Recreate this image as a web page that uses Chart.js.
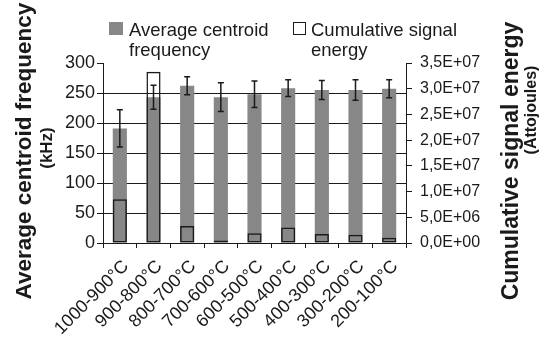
<!DOCTYPE html>
<html><head><meta charset="utf-8">
<script src="https://cdn.jsdelivr.net/npm/chart.js@4.4.1/dist/chart.umd.min.js"></script>
<style>html,body{margin:0;padding:0;background:#fff;}#wrap{width:547px;height:337px;position:relative;}</style>
</head><body><div id="wrap"><canvas id="c" width="547" height="337"></canvas></div>
<script>
const categories = ['1000-900°C','900-800°C','800-700°C','700-600°C','600-500°C','500-400°C','400-300°C','300-200°C','200-100°C'];
const frequencyValues = [191, 243, 262, 243, 248, 258, 255, 255, 257];
const frequencyErrors = [31, 20, 15, 24, 22, 14, 16, 17, 15];
const energyValues = [8.5e6, 3.33e7, 3.3e6, 5e5, 1.9e6, 3.0e6, 1.75e6, 1.6e6, 1.0e6];
const rightTickLabels = ['0,0E+00','5,0E+06','1,0E+07','1,5E+07','2,0E+07','2,5E+07','3,0E+07','3,5E+07'];
const legendLabels = [['Average centroid','frequency'],['Cumulative signal','energy']];
const leftTitle = ['Average centroid frequency','(kHz)'];
const rightTitle = ['Cumulative signal energy','(Attojoules)'];

const FONT = '"Liberation Sans", Arial, sans-serif';
const GRAY = '#878787';
const INK = '#1a1a1a';

const overlay = {
  id: 'overlay',
  afterDatasetsDraw(chart) {
    const ctx = chart.ctx;
    const y = chart.scales.y, x = chart.scales.x;
    ctx.save();
    ctx.strokeStyle = INK; ctx.lineWidth = 1.5;
    frequencyValues.forEach((v, i) => {
      const px = x.getPixelForValue(i);
      const top = y.getPixelForValue(v + frequencyErrors[i]);
      const bot = y.getPixelForValue(v - frequencyErrors[i]);
      ctx.beginPath();
      ctx.moveTo(px, top); ctx.lineTo(px, bot);
      ctx.moveTo(px - 3, top); ctx.lineTo(px + 3, top);
      ctx.moveTo(px - 3, bot); ctx.lineTo(px + 3, bot);
      ctx.stroke();
    });
    ctx.restore();
  },
  afterDraw(chart) {
    const ctx = chart.ctx;
    ctx.save();
    ctx.fillStyle = GRAY; ctx.fillRect(109, 22, 14, 13);
    ctx.strokeStyle = INK; ctx.lineWidth = 1; ctx.fillStyle = '#fff';
    ctx.fillRect(293.5, 22.5, 12, 12); ctx.strokeRect(293.5, 22.5, 12, 12);
    ctx.fillStyle = INK; ctx.font = '18.5px ' + FONT; ctx.textAlign = 'left'; ctx.textBaseline = 'alphabetic';
    legendLabels[0].forEach((t, k) => ctx.fillText(t, 129, 36 + k * 19.5));
    legendLabels[1].forEach((t, k) => ctx.fillText(t, 311, 36 + k * 19.5));
    const drawRot = (text, cx, cy, size) => {
      ctx.save(); ctx.translate(cx, cy); ctx.rotate(-Math.PI / 2);
      ctx.font = 'bold ' + size + 'px ' + FONT; ctx.textAlign = 'center'; ctx.textBaseline = 'middle';
      ctx.fillText(text, 0, 0); ctx.restore();
    };
    drawRot(leftTitle[0], 25, 151, 22.5);
    drawRot(leftTitle[1], 47, 148, 17);
    drawRot(rightTitle[0], 512, 161, 23);
    drawRot(rightTitle[1], 532, 110, 16);
    ctx.restore();
  }
};

new Chart(document.getElementById('c'), {
  type: 'bar',
  data: {
    labels: categories,
    datasets: [
      { label: 'Cumulative signal energy', data: energyValues, yAxisID: 'y1', order: 0,
        backgroundColor: 'rgba(0,0,0,0)', borderColor: INK, borderWidth: 1.5, borderSkipped: false },
      { label: 'Average centroid frequency', data: frequencyValues, yAxisID: 'y', order: 1,
        backgroundColor: GRAY, borderWidth: 0 }
    ]
  },
  options: {
    responsive: false, animation: false,
    datasets: { bar: { grouped: false, barPercentage: 0.42, categoryPercentage: 1 } },
    layout: { padding: { top: 63, left: 0, right: 0, bottom: 0 } },
    plugins: { legend: { display: false }, tooltip: { enabled: false } },
    scales: {
      x: {
        offset: true,
        grid: { display: true, offset: true, drawOnChartArea: false, drawTicks: true, tickLength: 5, color: INK },
        border: { color: INK, width: 1 },
        ticks: { font: { family: FONT, size: 18 }, color: INK, minRotation: 45, maxRotation: 45, autoSkip: false, padding: 8, labelOffset: 6 },
        afterFit: s => { s.height = 94; }
      },
      y: {
        position: 'left', min: 0, max: 300,
        grid: { color: c => (c.tick && c.tick.value === 300) ? 'rgba(0,0,0,0)' : INK, tickColor: INK, tickLength: 6, lineWidth: 1 },
        border: { color: INK, width: 1 },
        ticks: { stepSize: 50, font: { family: FONT, size: 18 }, color: INK, padding: 2 },
        afterFit: s => { s.width = 103; }
      },
      y1: {
        position: 'right', min: 0, max: 3.5e7,
        grid: { drawOnChartArea: false, color: INK, tickLength: 6 },
        border: { color: INK, width: 1 },
        ticks: { stepSize: 5e6, font: { family: FONT, size: 16 }, color: INK, padding: 8,
                 callback: (v, i) => rightTickLabels[i] },
        afterFit: s => { s.width = 141; }
      }
    }
  },
  plugins: [overlay]
});
</script></body></html>
